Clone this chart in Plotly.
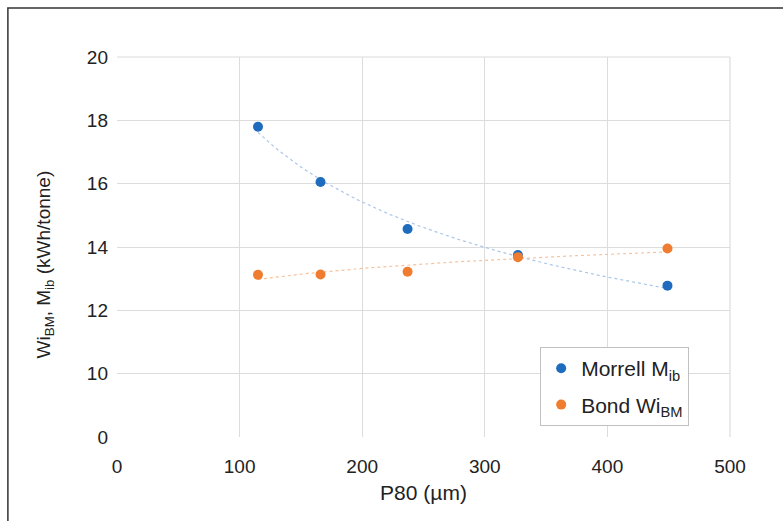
import numpy as np
import plotly.graph_objects as go

p80 = [115, 166, 237, 327, 449]
morrell = [17.8, 16.05, 14.57, 13.75, 12.78]
bond = [13.12, 13.13, 13.22, 13.68, 13.95]

x_ticks = [0, 100, 200, 300, 400, 500]
# broken y-axis: the "0" tick sits one step below 10
y_tickvals = [8, 10, 12, 14, 16, 18, 20]
y_ticktext = ["0", "10", "12", "14", "16", "18", "20"]

def power_fit(x, y):
    b, a = np.polyfit(np.log(x), np.log(y), 1)
    xs = np.linspace(min(x), max(x), 100)
    return xs, np.exp(a) * xs ** b

blue = "#1f6cbf"
orange = "#f07c30"

fig = go.Figure()
xs, ys = power_fit(p80, morrell)
fig.add_trace(go.Scatter(x=xs, y=ys, mode="lines", showlegend=False,
                         line=dict(color="#a9c6ea", width=1.2, dash="dot"), hoverinfo="skip"))
xs, ys = power_fit(p80, bond)
fig.add_trace(go.Scatter(x=xs, y=ys, mode="lines", showlegend=False,
                         line=dict(color="#f7c29c", width=1.2, dash="dot"), hoverinfo="skip"))
fig.add_trace(go.Scatter(x=p80, y=morrell, mode="markers", name="Morrell M<sub>ib</sub>",
                         legendgroup="a", marker=dict(color=blue, size=10)))
fig.add_trace(go.Scatter(x=p80, y=bond, mode="markers", name="Bond Wi<sub>BM</sub>",
                         legendgroup="b", marker=dict(color=orange, size=10)))

fam = "Liberation Sans, Arial, sans-serif"
font = dict(family=fam, size=19, color="#222222")
big = dict(family=fam, size=21, color="#222222")
fig.update_layout(
    width=783, height=521,
    margin=dict(l=117, r=53, t=57, b=84),
    paper_bgcolor="white", plot_bgcolor="white",
    font=font,
    xaxis=dict(range=[0, 500], tickvals=x_ticks, showgrid=True, gridcolor="#dcdcdc",
               gridwidth=1.2, zeroline=False, showline=False, ticks="",
               ticklabelstandoff=16, tickfont=font,
               title=dict(text="P80 (µm)", font=big, standoff=9)),
    yaxis=dict(range=[8, 20], tickvals=y_tickvals, ticktext=y_ticktext, showgrid=True,
               gridcolor="#dcdcdc", gridwidth=1.2, zeroline=False, showline=False, ticks="",
               ticklabelstandoff=8, tickfont=font),
    legend=dict(x=0.69, y=0.237, xanchor="left", yanchor="top", bgcolor="white",
                bordercolor="#c0c0c0", borderwidth=1.2, font=big, itemwidth=30,
                tracegroupgap=6),
    annotations=[
        dict(text="Wi<sub>BM</sub>, M<sub>ib</sub> (kWh/tonne)", xref="paper", yref="paper",
             x=-0.117, y=0.455, xanchor="center", yanchor="middle", textangle=-90,
             showarrow=False, font=font),
    ],
    shapes=[
        dict(type="line", xref="paper", yref="paper", x0=0, x1=1, y0=1, y1=1,
             line=dict(color="#dcdcdc", width=1.2)),
        dict(type="line", xref="paper", yref="paper", x0=1, x1=1, y0=0, y1=1,
             line=dict(color="#dcdcdc", width=1.2)),
        dict(type="rect", xref="paper", yref="paper", x0=-0.178, x1=1.2, y0=-0.3, y1=1.129,
             line=dict(color="#333333", width=1.5), layer="below"),
    ],
)
fig.write_html("out.html")
